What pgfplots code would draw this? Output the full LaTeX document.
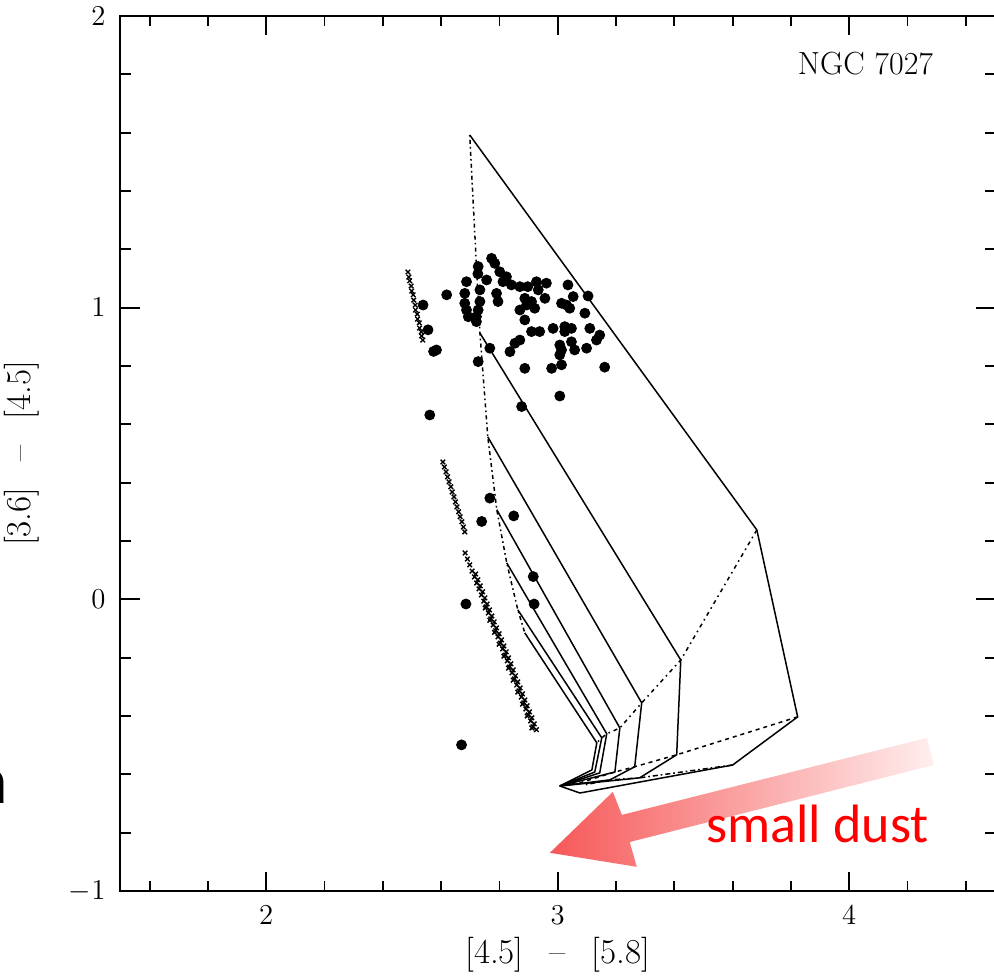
\documentclass[border=0pt]{standalone}
\usepackage{fontspec}
\usepackage{pgfplots}
\pgfplotsset{compat=1.18}
\newfontfamily\calibri{Carlito}
\definecolor{arrowdark}{RGB}{246,88,88}
\definecolor{arrowlight}{RGB}{255,238,238}
\begin{document}
\begin{tikzpicture}
\begin{axis}[
  scale only axis, width=437.25pt, height=437.5pt,
  xmin=1.5, xmax=4.5, ymin=-1, ymax=2,
  xtick={2,3,4}, ytick={-1,0,1,2},
  minor xtick={1.6,1.8,2.2,2.4,2.6,2.8,3.2,3.4,3.6,3.8,4.2,4.4},
  minor ytick={-0.8,-0.6,-0.4,-0.2,0.2,0.4,0.6,0.8,1.2,1.4,1.6,1.8},
  tick align=inside,
  major tick length=9.5pt, minor tick length=5pt,
  axis line style={line width=1pt},
  tick style={black, line width=0.9pt},
  ticklabel style={font=\fontsize{14}{16}\selectfont},
  xticklabel style={yshift=-4pt},
  yticklabel style={xshift=-4pt},
  xlabel={[4.5]\hspace{13pt}--\hspace{13pt}[5.8]},
  ylabel={[3.6]\hspace{13pt}--\hspace{13pt}[4.5]},
  label style={font=\fontsize{17.5}{19}\selectfont},
  xlabel style={at={(axis description cs:0.5,-0.0731)}, anchor=center},
  ylabel style={at={(axis description cs:-0.1126,0.5)}, anchor=center},
]
% model tracks (solid)
\addplot[black, line width=0.75pt] coordinates {(2.698,1.592) (3.683,0.238) (3.823,-0.403) (3.600,-0.568) (3.076,-0.664) (3.007,-0.640)};
\addplot[black, line width=0.75pt] coordinates {(2.733,0.913) (3.422,-0.208) (3.408,-0.533) (3.281,-0.612) (3.007,-0.640)};
\addplot[black, line width=0.75pt] coordinates {(2.760,0.557) (3.288,-0.355) (3.264,-0.574) (3.179,-0.619) (3.007,-0.640)};
\addplot[black, line width=0.75pt] coordinates {(2.791,0.307) (3.213,-0.441) (3.196,-0.592) (3.007,-0.640)};
\addplot[black, line width=0.75pt] coordinates {(2.825,0.125) (3.168,-0.461) (3.144,-0.595) (3.007,-0.640)};
\addplot[black, line width=0.75pt] coordinates {(2.863,-0.036) (3.151,-0.475) (3.127,-0.592) (3.007,-0.640)};
\addplot[black, line width=0.75pt] coordinates {(2.887,-0.115) (3.134,-0.492) (3.117,-0.585) (3.007,-0.640)};
% connecting lines (dotted / dash-dot)
\addplot[black, line width=0.75pt, dash pattern=on 0.8pt off 1.6pt on 2pt off 1.6pt] coordinates {(2.698,1.592) (2.733,0.913) (2.760,0.557) (2.791,0.307) (2.825,0.125) (2.863,-0.036) (2.887,-0.115)};
\addplot[black, line width=0.75pt, dash pattern=on 2pt off 2pt on 0.8pt off 2pt] coordinates {(3.683,0.238) (3.422,-0.208) (3.288,-0.355) (3.213,-0.441) (3.168,-0.461) (3.151,-0.475) (3.134,-0.492)};
\addplot[black, line width=0.75pt, dash pattern=on 2pt off 2pt] coordinates {(3.823,-0.403) (3.408,-0.533) (3.264,-0.574) (3.196,-0.592) (3.076,-0.629) (3.007,-0.640)};
\addplot[black, line width=0.75pt, dash pattern=on 2.5pt off 1.5pt on 0.8pt off 1.5pt] coordinates {(3.600,-0.568) (3.281,-0.612) (3.179,-0.619) (3.093,-0.636)};
% crosses (streaks)
\addplot[only marks, mark=x, mark size=1.6pt, black, mark options={line width=0.7pt}] coordinates {
(2.486,1.122) (2.489,1.105) (2.492,1.092) (2.497,1.074) (2.499,1.057) (2.504,1.044) (2.506,1.026) (2.511,1.009) (2.512,0.992) (2.518,0.978) (2.519,0.961) (2.525,0.948) (2.526,0.930) (2.532,0.917) (2.533,0.903) (2.537,0.889)};
\addplot[only marks, mark=x, mark size=1.6pt, black, mark options={line width=0.7pt}] coordinates {
(2.606,0.471) (2.611,0.454) (2.617,0.437) (2.622,0.420) (2.627,0.403) (2.633,0.386) (2.638,0.368) (2.644,0.351) (2.649,0.334) (2.654,0.317) (2.660,0.300) (2.665,0.283) (2.671,0.266) (2.676,0.248) (2.681,0.231)};
\addplot[only marks, mark=x, mark size=1.6pt, black, mark options={line width=0.7pt}] coordinates {
(2.682,0.159) (2.690,0.138) (2.698,0.118) (2.706,0.097) (2.714,0.077) (2.722,0.056) (2.730,0.036) (2.738,0.015) (2.746,-0.006) (2.754,-0.026)
(2.762,-0.047) (2.770,-0.067) (2.778,-0.088) (2.787,-0.108) (2.795,-0.129) (2.803,-0.150) (2.811,-0.170) (2.819,-0.191) (2.827,-0.211) (2.835,-0.232)
(2.843,-0.252) (2.851,-0.273) (2.859,-0.294) (2.867,-0.314) (2.875,-0.335) (2.883,-0.355) (2.891,-0.376) (2.899,-0.396) (2.907,-0.417) (2.915,-0.437)
(2.718,0.087) (2.726,0.067) (2.734,0.046) (2.742,0.026) (2.750,0.005) (2.758,-0.016) (2.766,-0.036) (2.774,-0.057) (2.782,-0.077) (2.790,-0.098)
(2.799,-0.118) (2.807,-0.139) (2.815,-0.160) (2.823,-0.180) (2.831,-0.201) (2.839,-0.221) (2.847,-0.242) (2.855,-0.262) (2.863,-0.283) (2.871,-0.304)
(2.879,-0.324) (2.887,-0.345) (2.895,-0.365) (2.903,-0.386) (2.911,-0.406) (2.919,-0.427) (2.927,-0.447)
(2.751,-0.030) (2.767,-0.072) (2.783,-0.113) (2.799,-0.154) (2.815,-0.195) (2.831,-0.236) (2.847,-0.277) (2.863,-0.318) (2.879,-0.359) (2.895,-0.400) (2.911,-0.441)};
% filled circles
\addplot[only marks, mark=*, mark size=2.5pt, black] coordinates {
(2.773,1.169) (2.727,1.141) (2.726,1.116) (2.801,1.123) (2.824,1.106) (2.687,1.089) (2.756,1.095) (2.812,1.089) (2.841,1.078) (2.870,1.072)
(2.897,1.072) (2.927,1.089) (2.961,1.084) (3.035,1.078) (2.619,1.044) (2.681,1.049) (2.733,1.061) (2.790,1.049) (2.887,1.032) (2.956,1.032)
(3.053,1.038) (3.104,1.040) (2.681,1.015) (2.733,1.021) (2.795,1.021) (2.893,1.009) (2.921,0.998) (3.013,1.015) (3.041,0.998) (2.870,0.992)
(2.687,0.992) (2.727,0.992) (2.693,0.969) (3.093,0.981) (2.887,0.958) (2.721,0.952) (2.910,0.918) (2.938,0.918) (2.984,0.929) (3.024,0.918)
(3.047,0.929) (3.110,0.929) (3.144,0.906) (3.133,0.889) (2.870,0.889) (2.853,0.878) (3.007,0.872) (3.047,0.883) (3.058,0.855) (3.099,0.861)
(2.767,0.861) (2.836,0.849) (2.584,0.855) (3.007,0.838) (3.013,0.804) (2.727,0.815) (2.887,0.792) (2.979,0.792) (3.161,0.796) (3.007,0.697)
(2.876,0.661) (2.561,0.632) (2.538,1.009) (2.555,0.924) (2.574,0.850) (2.767,0.347) (2.739,0.267) (2.849,0.286) (2.916,0.078) (2.919,-0.016)
(2.685,-0.016) (2.670,-0.499) (2.933,1.061) (2.910,1.021) (3.030,1.009) (2.784,1.152) (2.721,0.969) (3.024,0.935) (3.013,0.855)};
% annotation arrow and texts
\path[left color=arrowdark, right color=arrowlight] (axis cs:2.973,-0.869) -- (axis cs:3.189,-0.660) -- (axis cs:3.220,-0.739) -- (axis cs:4.266,-0.475) -- (axis cs:4.290,-0.568) -- (axis cs:3.247,-0.832) -- (axis cs:3.271,-0.917) -- cycle;
\node[anchor=base west, text=red, inner sep=0pt, font=\calibri\fontsize{27}{30}\selectfont] at (axis cs:3.508,-0.835) {small dust};
\node[anchor=base, inner sep=0pt, font=\fontsize{16}{18}\selectfont] at (axis cs:4.056,1.798) {NGC 7027};
\coordinate (ll) at (rel axis cs:0,0);
\end{axis}
\node[anchor=base east, inner sep=0pt, font=\calibri\fontsize{34}{36}\selectfont] at ([shift={(-56pt,44pt)}]ll) {a};
\pgfresetboundingbox
\path[use as bounding box] ([shift={(-60.25pt,-42pt)}]ll) rectangle ([shift={(436.75pt,445.5pt)}]ll);
\end{tikzpicture}
\end{document}
